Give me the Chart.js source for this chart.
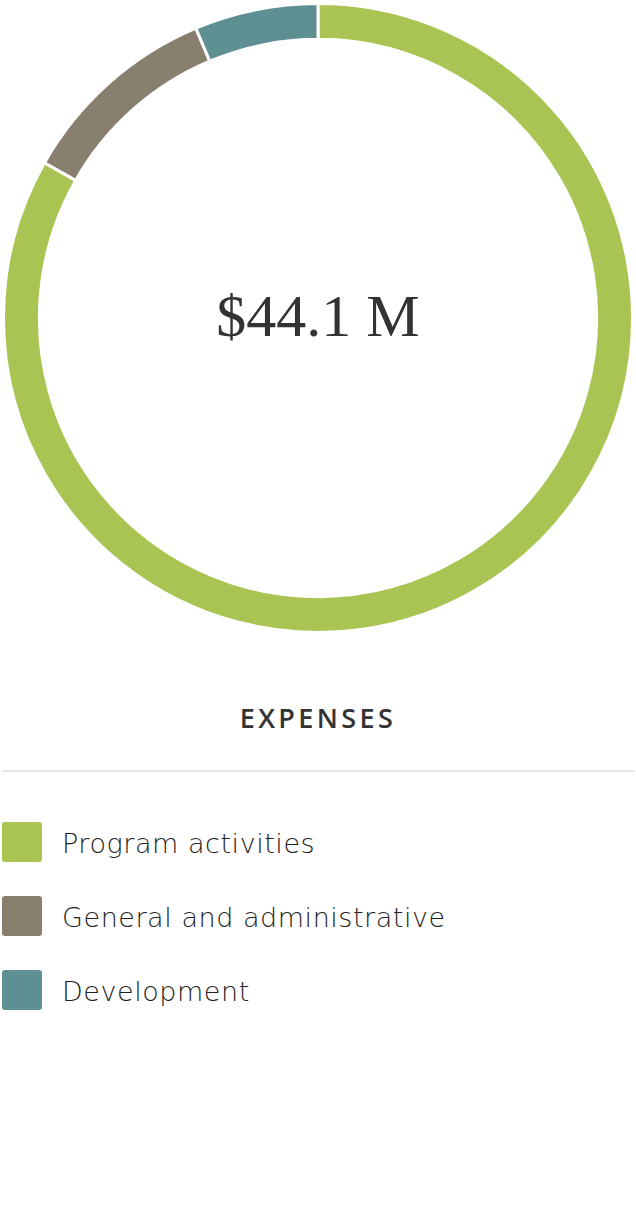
<!DOCTYPE html>
<html>
<head>
<meta charset="utf-8">
<script src="https://cdn.jsdelivr.net/npm/chart.js@4.4.1/dist/chart.umd.min.js"></script>
<style>
    body { margin: 0; background: #fff; width: 636px; height: 1232px; position: relative; overflow: hidden; }
    #chartBox { position: absolute; left: 0; top: 0; width: 636px; height: 636px; }
    #total {
        position: absolute; left: 0; top: 286px; width: 636px; text-align: center;
        font-family: "Liberation Serif", "DejaVu Serif", serif; font-size: 60px; line-height: 1;
        color: #333;
    }
    #title {
        position: absolute; left: 0; top: 700px; width: 636px; text-align: center;
        font-family: "Open Sans", sans-serif; font-weight: 600; font-size: 27px; letter-spacing: 3.4px;
        color: #333; line-height: 36px;
    }
    #rule { position: absolute; left: 2px; top: 770px; width: 632px; height: 2px; background: #e6e6e6; }
    .item { position: absolute; left: 2px; height: 40px; }
    .item .sw { position: absolute; left: 0; top: 0; width: 40px; height: 40px; border-radius: 3px; }
    .item .lb {
        position: absolute; left: 60px; top: 2px; line-height: 40px; white-space: nowrap;
        font-family: "DejaVu Sans", sans-serif; font-weight: 200; font-size: 27px; color: #222;
        letter-spacing: 0.55px;
    }
</style>
</head>
<body>
<div id="chartBox"><canvas id="donut"></canvas></div>
<div id="total">$44.1 M</div>
<div id="title">EXPENSES</div>
<div id="rule"></div>
<div id="legend"></div>
<script>
// gastos en millones de dolares
const categories = ['Program activities', 'General and administrative', 'Development'];
const amounts = [36.7, 4.6, 2.8];
const colors = ['#a9c452', '#897f6f', '#5e8f92'];

// leyenda en html
const legend = document.getElementById('legend');
categories.forEach(function(name, i) {
    const row = document.createElement('div');
    row.className = 'item';
    row.style.top = (822 + i * 74) + 'px';
    row.innerHTML = '<div class="sw" style="background:' + colors[i] + '"></div><div class="lb"></div>';
    row.querySelector('.lb').textContent = name;
    legend.appendChild(row);
});

const ctx = document.getElementById('donut').getContext('2d');
new Chart(ctx, {
    type: 'doughnut',
    data: {
        labels: categories,
        datasets: [{
            data: amounts,
            backgroundColor: colors,
            borderColor: '#fff',
            borderWidth: 3
        }]
    },
    options: {
        responsive: true,
        maintainAspectRatio: false,
        animation: false,
        cutout: '88.6%',
        layout: { padding: 2 },
        plugins: {
            legend: { display: false },
            tooltip: { enabled: false }
        }
    }
});
</script>
</body>
</html>
